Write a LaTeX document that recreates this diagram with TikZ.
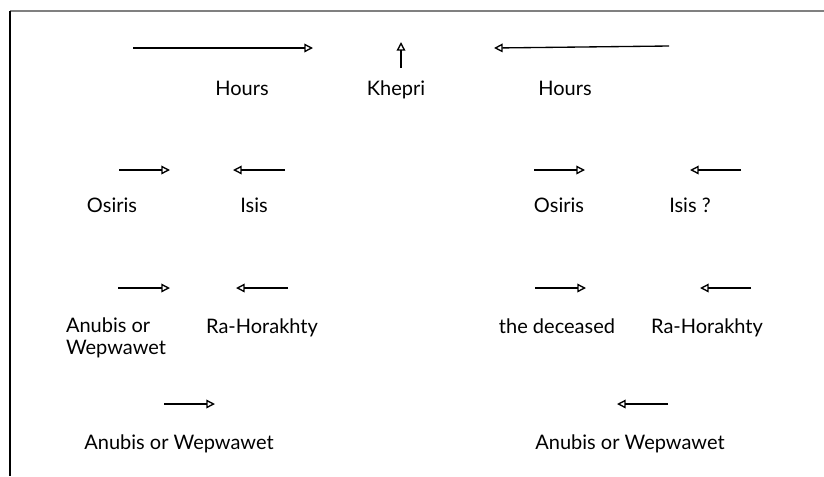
\documentclass[tikz,border=0pt]{standalone}
\usepackage{fontspec}
\setmainfont{Lato}
\usetikzlibrary{arrows.meta}

\begin{document}
\begin{tikzpicture}[
    x=0.75pt,
    y=-0.75pt,
    >={Triangle[open, length=6.5pt, width=6.5pt]},
    line width=1pt,
    every node/.style={
        font=\fontsize{15}{17}\selectfont,
        inner sep=0pt,
    },
    godlabel/.style={anchor=base},
    godarrow/.style={->, shorten >=0pt},
]
\useasboundingbox (0,0) rectangle (824,476);

% --- Frame ---
\draw[gray, line width=1.5pt] (10,11) -- (824,11);
\draw[black, line width=1.5pt] (10,11) -- (10,476);

% --- Labels ---
\node[godlabel] (hoursL)    at (242,95)  {Hours};
\node[godlabel] (khepri)    at (396,95)  {Khepri};
\node[godlabel] (hoursR)    at (565,95)  {Hours};
\node[godlabel] (osirisL)   at (112,212) {Osiris};
\node[godlabel] (isisL)     at (254,212) {Isis};
\node[godlabel] (osirisR)   at (559,212) {Osiris};
\node[godlabel] (isisR)     at (690,212) {Isis ?};
\node[align=left] (anubisL) at (116,338) {Anubis or\\Wepwawet};
\node[godlabel] (raL)       at (262,333) {Ra-Horakhty};
\node[godlabel] (deceased)  at (557,333) {the deceased};
\node[godlabel] (raR)       at (707,333) {Ra-Horakhty};
\node[godlabel] (anubisBL)  at (179,449) {Anubis or Wepwawet};
\node[godlabel] (anubisBR)  at (630,449) {Anubis or Wepwawet};

% --- Arrow ends ---
\coordinate (hoursL-s)   at (133,48);  \coordinate (hoursL-e)   at (313,48);
\coordinate (khepri-s)   at (401,68);  \coordinate (khepri-e)   at (401,42);
\coordinate (hoursR-s)   at (669,46);  \coordinate (hoursR-e)   at (494,48);
\coordinate (osirisL-s)  at (119,170); \coordinate (osirisL-e)  at (170,170);
\coordinate (isisL-s)    at (285,170); \coordinate (isisL-e)    at (233,170);
\coordinate (osirisR-s)  at (534,170); \coordinate (osirisR-e)  at (585,170);
\coordinate (isisR-s)    at (741,170); \coordinate (isisR-e)    at (690,170);
\coordinate (anubisL-s)  at (118,288); \coordinate (anubisL-e)  at (170,288);
\coordinate (raL-s)      at (288,288); \coordinate (raL-e)      at (236,288);
\coordinate (deceased-s) at (535,288); \coordinate (deceased-e) at (586,288);
\coordinate (raR-s)      at (751,288); \coordinate (raR-e)      at (700,288);
\coordinate (anubisBL-s) at (164,404); \coordinate (anubisBL-e) at (215,404);
\coordinate (anubisBR-s) at (668,404); \coordinate (anubisBR-e) at (617,404);

% --- Arrows ---
\foreach \n in {hoursL, khepri, hoursR, osirisL, isisL, osirisR, isisR,
                anubisL, raL, deceased, raR, anubisBL, anubisBR}
    \draw[godarrow] (\n-s) -- (\n-e);

\end{tikzpicture}
\end{document}
